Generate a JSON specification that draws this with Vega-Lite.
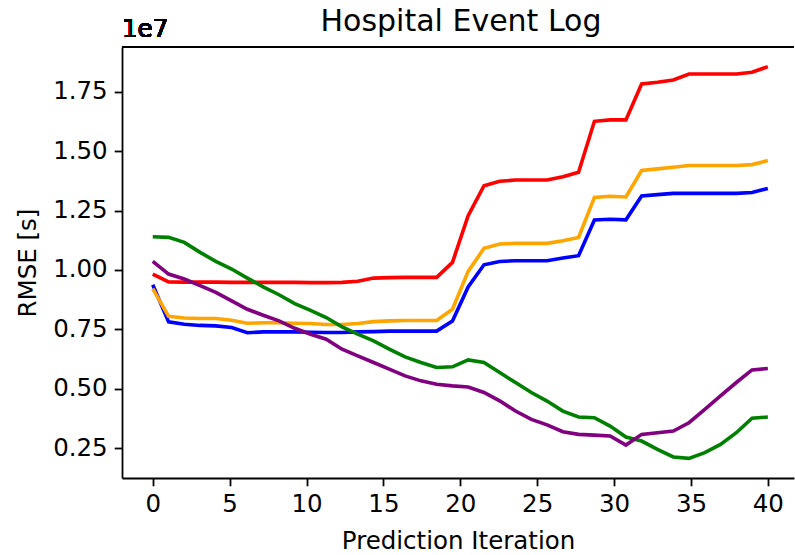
{
  "$schema": "https://vega.github.io/schema/vega-lite/v6.json",
  "autosize": "none",
  "width": 672,
  "height": 431,
  "padding": {"left": 122, "top": 47, "right": 1, "bottom": 77},
  "background": "white",
  "title": {"text": "Hospital Event Log", "font": "DejaVu Sans", "fontSize": 30, "fontWeight": "normal", "color": "black", "anchor": "middle", "offset": -20, "dx": 3},
  "data": {"values": [
    {"iteration": 0, "red": 9830000, "orange": 9220000, "blue": 9380000, "green": 11400000, "purple": 10360000},
    {"iteration": 1.03, "red": 9500000, "orange": 8050000, "blue": 7820000, "green": 11370000, "purple": 9830000},
    {"iteration": 2.05, "red": 9490000, "orange": 7980000, "blue": 7720000, "green": 11160000, "purple": 9620000},
    {"iteration": 3.08, "red": 9490000, "orange": 7960000, "blue": 7670000, "green": 10740000, "purple": 9340000},
    {"iteration": 4.10, "red": 9490000, "orange": 7960000, "blue": 7650000, "green": 10360000, "purple": 9060000},
    {"iteration": 5.13, "red": 9480000, "orange": 7890000, "blue": 7580000, "green": 10040000, "purple": 8700000},
    {"iteration": 6.15, "red": 9480000, "orange": 7760000, "blue": 7360000, "green": 9660000, "purple": 8350000},
    {"iteration": 7.18, "red": 9480000, "orange": 7780000, "blue": 7400000, "green": 9290000, "purple": 8100000},
    {"iteration": 8.21, "red": 9480000, "orange": 7780000, "blue": 7400000, "green": 8960000, "purple": 7860000},
    {"iteration": 9.23, "red": 9480000, "orange": 7760000, "blue": 7400000, "green": 8590000, "purple": 7550000},
    {"iteration": 10.26, "red": 9470000, "orange": 7750000, "blue": 7380000, "green": 8300000, "purple": 7300000},
    {"iteration": 11.28, "red": 9470000, "orange": 7710000, "blue": 7370000, "green": 8000000, "purple": 7090000},
    {"iteration": 12.31, "red": 9480000, "orange": 7710000, "blue": 7370000, "green": 7610000, "purple": 6670000},
    {"iteration": 13.33, "red": 9530000, "orange": 7750000, "blue": 7400000, "green": 7300000, "purple": 6390000},
    {"iteration": 14.36, "red": 9660000, "orange": 7830000, "blue": 7410000, "green": 7020000, "purple": 6110000},
    {"iteration": 15.38, "red": 9680000, "orange": 7860000, "blue": 7430000, "green": 6670000, "purple": 5830000},
    {"iteration": 16.41, "red": 9690000, "orange": 7880000, "blue": 7430000, "green": 6350000, "purple": 5550000},
    {"iteration": 17.44, "red": 9690000, "orange": 7880000, "blue": 7430000, "green": 6110000, "purple": 5340000},
    {"iteration": 18.46, "red": 9690000, "orange": 7880000, "blue": 7430000, "green": 5900000, "purple": 5200000},
    {"iteration": 19.49, "red": 10320000, "orange": 8350000, "blue": 7860000, "green": 5930000, "purple": 5130000},
    {"iteration": 20.51, "red": 12280000, "orange": 9940000, "blue": 9290000, "green": 6220000, "purple": 5080000},
    {"iteration": 21.54, "red": 13540000, "orange": 10910000, "blue": 10220000, "green": 6110000, "purple": 4850000},
    {"iteration": 22.56, "red": 13730000, "orange": 11090000, "blue": 10360000, "green": 5690000, "purple": 4500000},
    {"iteration": 23.59, "red": 13780000, "orange": 11120000, "blue": 10390000, "green": 5270000, "purple": 4070000},
    {"iteration": 24.62, "red": 13780000, "orange": 11120000, "blue": 10390000, "green": 4850000, "purple": 3720000},
    {"iteration": 25.64, "red": 13780000, "orange": 11120000, "blue": 10390000, "green": 4490000, "purple": 3490000},
    {"iteration": 26.67, "red": 13920000, "orange": 11230000, "blue": 10500000, "green": 4070000, "purple": 3200000},
    {"iteration": 27.69, "red": 14110000, "orange": 11370000, "blue": 10600000, "green": 3820000, "purple": 3090000},
    {"iteration": 28.72, "red": 16250000, "orange": 13050000, "blue": 12100000, "green": 3790000, "purple": 3060000},
    {"iteration": 29.74, "red": 16310000, "orange": 13100000, "blue": 12130000, "green": 3440000, "purple": 3020000},
    {"iteration": 30.77, "red": 16310000, "orange": 13070000, "blue": 12110000, "green": 2980000, "purple": 2640000},
    {"iteration": 31.79, "red": 17820000, "orange": 14180000, "blue": 13110000, "green": 2810000, "purple": 3090000},
    {"iteration": 32.82, "red": 17890000, "orange": 14250000, "blue": 13170000, "green": 2460000, "purple": 3160000},
    {"iteration": 33.85, "red": 17990000, "orange": 14320000, "blue": 13220000, "green": 2140000, "purple": 3230000},
    {"iteration": 34.87, "red": 18240000, "orange": 14390000, "blue": 13220000, "green": 2080000, "purple": 3580000},
    {"iteration": 35.90, "red": 18240000, "orange": 14390000, "blue": 13220000, "green": 2320000, "purple": 4140000},
    {"iteration": 36.92, "red": 18240000, "orange": 14390000, "blue": 13220000, "green": 2670000, "purple": 4710000},
    {"iteration": 37.95, "red": 18240000, "orange": 14390000, "blue": 13220000, "green": 3160000, "purple": 5270000},
    {"iteration": 38.97, "red": 18310000, "orange": 14430000, "blue": 13260000, "green": 3770000, "purple": 5800000},
    {"iteration": 40, "red": 18550000, "orange": 14600000, "blue": 13430000, "green": 3820000, "purple": 5860000}
  ]},
  "encoding": {
    "x": {"field": "iteration", "type": "quantitative",
      "scale": {"domain": [-2, 41.7], "nice": false, "zero": false},
      "axis": {"title": "Prediction Iteration", "values": [0, 5, 10, 15, 20, 25, 30, 35, 40], "format": "d", "labelFlush": false, "titlePadding": 13}}
  },
  "layer": [
    {"mark": {"type": "line", "color": "#ff0000", "strokeWidth": 3.6, "clip": true},
     "encoding": {"y": {"field": "red", "type": "quantitative", "title": "RMSE [s]",
       "scale": {"domain": [1256000, 19374000], "nice": false, "zero": false},
       "axis": {"title": "RMSE [s]", "values": [2500000, 5000000, 7500000, 10000000, 12500000, 15000000, 17500000], "labelExpr": "format(datum.value / 10000000, '.2f')", "labelFlush": false, "titlePadding": 12}}}},
    {"mark": {"type": "line", "color": "#0000ff", "strokeWidth": 3.6, "clip": true},
     "encoding": {"y": {"field": "blue", "type": "quantitative", "title": "RMSE [s]"}}},
    {"mark": {"type": "line", "color": "#ffa500", "strokeWidth": 3.6, "clip": true},
     "encoding": {"y": {"field": "orange", "type": "quantitative", "title": "RMSE [s]"}}},
    {"mark": {"type": "line", "color": "#008000", "strokeWidth": 3.6, "clip": true},
     "encoding": {"y": {"field": "green", "type": "quantitative", "title": "RMSE [s]"}}},
    {"mark": {"type": "line", "color": "#800080", "strokeWidth": 3.6, "clip": true},
     "encoding": {"y": {"field": "purple", "type": "quantitative", "title": "RMSE [s]"}}},
    {"mark": {"type": "rule", "color": "black", "strokeWidth": 1.8},
     "encoding": {"x": null, "y": {"datum": 19374000, "type": "quantitative"}}},
    {"mark": {"type": "text", "align": "left", "baseline": "alphabetic", "dy": -10, "font": "DejaVu Sans", "fontSize": 24.5, "color": "black", "text": "1e7"},
     "encoding": {"x": {"datum": -2, "type": "quantitative"}, "y": {"datum": 19374000, "type": "quantitative"}}}
  ],
  "config": {
    "view": {"stroke": null},
    "axis": {"grid": false, "domainColor": "black", "domainWidth": 1.8, "tickColor": "black", "tickWidth": 1.8, "tickSize": 7.8, "labelFont": "DejaVu Sans", "labelFontSize": 24.5, "labelColor": "black", "labelPadding": 7, "titleFont": "DejaVu Sans", "titleFontSize": 24.5, "titleFontWeight": "normal", "titleColor": "black"}
  }
}
